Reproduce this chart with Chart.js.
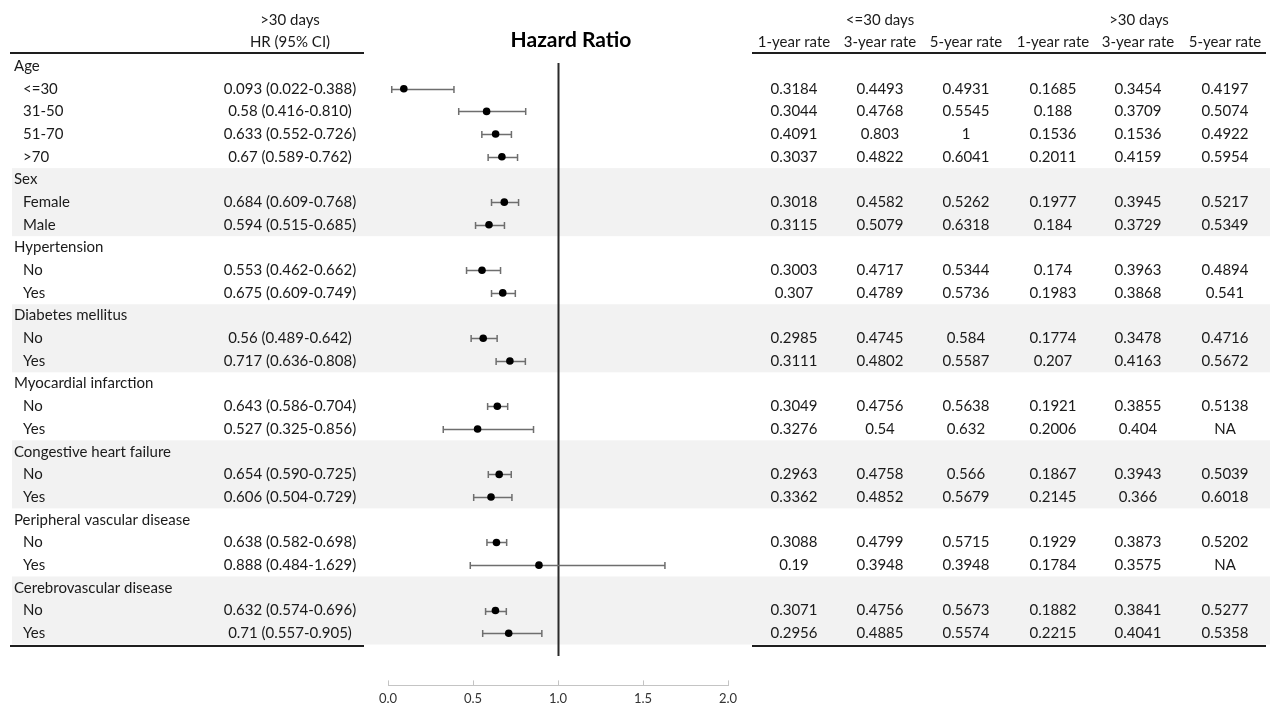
<!DOCTYPE html>
<html>
<head>
<meta charset="utf-8">
<script src="https://cdn.jsdelivr.net/npm/chart.js@4.4.0/dist/chart.umd.min.js"></script>
<style>
  html, body { margin: 0; padding: 0; background: #fff; overflow: hidden; }
  #wrap { width: 1270px; height: 705px; }
</style>
</head>
<body>
<div id="wrap"><canvas id="forestChart" width="1270" height="705"></canvas></div>
<script>
// rows of the table, group headers have no values
var rowLabels = ['Age', '<=30', '31-50', '51-70', '>70',
    'Sex', 'Female', 'Male',
    'Hypertension', 'No', 'Yes',
    'Diabetes mellitus', 'No', 'Yes',
    'Myocardial infarction', 'No', 'Yes',
    'Congestive heart failure', 'No', 'Yes',
    'Peripheral vascular disease', 'No', 'Yes',
    'Cerebrovascular disease', 'No', 'Yes'];

var hr     = [null, 0.093, 0.58, 0.633, 0.67, null, 0.684, 0.594, null, 0.553, 0.675, null, 0.56, 0.717, null, 0.643, 0.527, null, 0.654, 0.606, null, 0.638, 0.888, null, 0.632, 0.71];
var ciLow  = [null, 0.022, 0.416, 0.552, 0.589, null, 0.609, 0.515, null, 0.462, 0.609, null, 0.489, 0.636, null, 0.586, 0.325, null, 0.590, 0.504, null, 0.582, 0.484, null, 0.574, 0.557];
var ciHigh = [null, 0.388, 0.810, 0.726, 0.762, null, 0.768, 0.685, null, 0.662, 0.749, null, 0.642, 0.808, null, 0.704, 0.856, null, 0.725, 0.729, null, 0.698, 1.629, null, 0.696, 0.905];

// survival rates, NA = null
var le30Year1 = [null, 0.3184, 0.3044, 0.4091, 0.3037, null, 0.3018, 0.3115, null, 0.3003, 0.307, null, 0.2985, 0.3111, null, 0.3049, 0.3276, null, 0.2963, 0.3362, null, 0.3088, 0.19, null, 0.3071, 0.2956];
var le30Year3 = [null, 0.4493, 0.4768, 0.803, 0.4822, null, 0.4582, 0.5079, null, 0.4717, 0.4789, null, 0.4745, 0.4802, null, 0.4756, 0.54, null, 0.4758, 0.4852, null, 0.4799, 0.3948, null, 0.4756, 0.4885];
var le30Year5 = [null, 0.4931, 0.5545, 1, 0.6041, null, 0.5262, 0.6318, null, 0.5344, 0.5736, null, 0.584, 0.5587, null, 0.5638, 0.632, null, 0.566, 0.5679, null, 0.5715, 0.3948, null, 0.5673, 0.5574];
var gt30Year1 = [null, 0.1685, 0.188, 0.1536, 0.2011, null, 0.1977, 0.184, null, 0.174, 0.1983, null, 0.1774, 0.207, null, 0.1921, 0.2006, null, 0.1867, 0.2145, null, 0.1929, 0.1784, null, 0.1882, 0.2215];
var gt30Year3 = [null, 0.3454, 0.3709, 0.1536, 0.4159, null, 0.3945, 0.3729, null, 0.3963, 0.3868, null, 0.3478, 0.4163, null, 0.3855, 0.404, null, 0.3943, 0.366, null, 0.3873, 0.3575, null, 0.3841, 0.4041];
var gt30Year5 = [null, 0.4197, 0.5074, 0.4922, 0.5954, null, 0.5217, 0.5349, null, 0.4894, 0.541, null, 0.4716, 0.5672, null, 0.5138, null, null, 0.5039, 0.6018, null, 0.5202, null, null, 0.5277, 0.5358];

var rateColumns = [le30Year1, le30Year3, le30Year5, gt30Year1, gt30Year3, gt30Year5];
var rateHeaders = ['1-year rate', '3-year rate', '5-year rate', '1-year rate', '3-year rate', '5-year rate'];
var groupHeaders = ['<=30 days', '>30 days'];
var xTicks = [0, 0.5, 1, 1.5, 2];
var refValue = 1;

// layout
var FONT = 'Lato, "Open Sans", sans-serif';
var TEXT = '#1a1a1a';
var rowTop = 66, rowStep = 22.6;
var areaTop = 63, areaBottom = 683;
var rateX = [794, 880, 966, 1053, 1138, 1225];
var hrX = 290;

var yMin = -(rowTop - areaTop) / rowStep;
var yMax = yMin + (areaBottom - areaTop) / rowStep;

var points = [];
for (var i = 0; i < rowLabels.length; i++) {
    if (hr[i] !== null) points.push({x: hr[i], y: i});
}

// rows that start a group
var headerRows = [];
for (var i = 0; i < rowLabels.length; i++) {
    if (hr[i] === null) headerRows.push(i);
}

var forestPlugin = {
    id: 'forestTable',
    beforeDatasetsDraw: function(chart) {
        var ctx = chart.ctx, x = chart.scales.x, y = chart.scales.y;
        ctx.save();
        // shaded bands, every second group
        ctx.fillStyle = '#f2f2f2';
        for (var g = 1; g < headerRows.length; g += 2) {
            var first = headerRows[g];
            var last = (g + 1 < headerRows.length ? headerRows[g + 1] : rowLabels.length) - 1;
            var t = y.getPixelForValue(first - 0.5), b = y.getPixelForValue(last + 0.5);
            ctx.fillRect(12, t, chart.width - 12, b - t);
        }
        // reference line at HR = 1
        var rx = Math.round(x.getPixelForValue(refValue)) + 0.5;
        ctx.strokeStyle = '#2a2a2a';
        ctx.lineWidth = 2;
        ctx.beginPath();
        ctx.moveTo(rx, chart.chartArea.top);
        ctx.lineTo(rx, y.getPixelForValue(rowLabels.length));
        ctx.stroke();
        // confidence intervals
        ctx.strokeStyle = '#6e6e6e';
        ctx.lineWidth = 1.5;
        for (var i = 0; i < rowLabels.length; i++) {
            if (hr[i] === null) continue;
            var py = Math.round(y.getPixelForValue(i)) + 0.5;
            var x1 = x.getPixelForValue(ciLow[i]), x2 = x.getPixelForValue(ciHigh[i]);
            ctx.beginPath();
            ctx.moveTo(x1, py); ctx.lineTo(x2, py);
            ctx.moveTo(x1, py - 3.5); ctx.lineTo(x1, py + 3.5);
            ctx.moveTo(x2, py - 3.5); ctx.lineTo(x2, py + 3.5);
            ctx.stroke();
        }
        ctx.restore();
    },
    afterDatasetsDraw: function(chart) {
        var ctx = chart.ctx, y = chart.scales.y;
        ctx.save();
        ctx.fillStyle = TEXT;
        ctx.textBaseline = 'middle';
        ctx.font = '15px ' + FONT;

        // headers
        ctx.textAlign = 'center';
        ctx.fillText('>30 days', hrX, 20);
        ctx.fillText('HR (95% CI)', hrX, 42);
        ctx.fillText(groupHeaders[0], (rateX[0] + rateX[2]) / 2, 20);
        ctx.fillText(groupHeaders[1], (rateX[3] + rateX[5]) / 2, 20);
        for (var c = 0; c < rateHeaders.length; c++) {
            ctx.fillText(rateHeaders[c], rateX[c], 42);
        }
        ctx.font = 'bold 21px ' + FONT;
        ctx.fillStyle = '#000';
        ctx.fillText('Hazard Ratio', 571, 40);

        // rows
        ctx.fillStyle = TEXT;
        ctx.font = '15px ' + FONT;
        for (var i = 0; i < rowLabels.length; i++) {
            var py = y.getPixelForValue(i);
            ctx.textAlign = 'left';
            ctx.fillText(rowLabels[i], hr[i] === null ? 14 : 23, py);
            if (hr[i] === null) continue;
            ctx.textAlign = 'center';
            ctx.fillText(hr[i] + ' (' + ciLow[i].toFixed(3) + '-' + ciHigh[i].toFixed(3) + ')', hrX, py);
            for (var c = 0; c < rateColumns.length; c++) {
                var v = rateColumns[c][i];
                ctx.fillText(v === null ? 'NA' : String(v), rateX[c], py);
            }
        }

        // table rules
        ctx.strokeStyle = '#1e1e1e';
        ctx.lineWidth = 2;
        var topRule = 53, bottomRule = Math.round(y.getPixelForValue(rowLabels.length - 0.5)) + 1;
        ctx.beginPath();
        ctx.moveTo(10, topRule); ctx.lineTo(364, topRule);
        ctx.moveTo(752, topRule); ctx.lineTo(1266, topRule);
        ctx.moveTo(10, bottomRule); ctx.lineTo(364, bottomRule);
        ctx.moveTo(752, bottomRule); ctx.lineTo(1266, bottomRule);
        ctx.stroke();
        ctx.restore();
    }
};

var forestCtx = document.getElementById('forestChart').getContext('2d');

var forestChart = new Chart(forestCtx, {
    type: 'scatter',
    data: {
        datasets: [{
            data: points,
            pointRadius: 3.8,
            pointHoverRadius: 3.8,
            backgroundColor: '#000',
            borderColor: '#000',
            borderWidth: 0
        }]
    },
    options: {
        responsive: false,
        devicePixelRatio: 1,
        animation: false,
        layout: {
            padding: {left: 388, right: 1270 - 728, top: areaTop, bottom: -13}
        },
        plugins: {
            legend: {display: false},
            tooltip: {enabled: false}
        },
        scales: {
            x: {
                type: 'linear',
                min: xTicks[0],
                max: xTicks[xTicks.length - 1],
                afterBuildTicks: function(scale) {
                    scale.ticks = xTicks.map(function(v) { return {value: v}; });
                },
                ticks: {
                    color: '#333',
                    padding: 11,
                    font: {family: FONT, size: 13},
                    callback: function(v) { return Number(v).toFixed(1); }
                },
                grid: {drawOnChartArea: false, tickLength: -5, color: '#c4c4c4'},
                border: {color: '#c4c4c4', width: 1}
            },
            y: {
                type: 'linear',
                display: false,
                reverse: true,
                min: yMin,
                max: yMax
            }
        }
    },
    plugins: [forestPlugin]
});
</script>
</body>
</html>
